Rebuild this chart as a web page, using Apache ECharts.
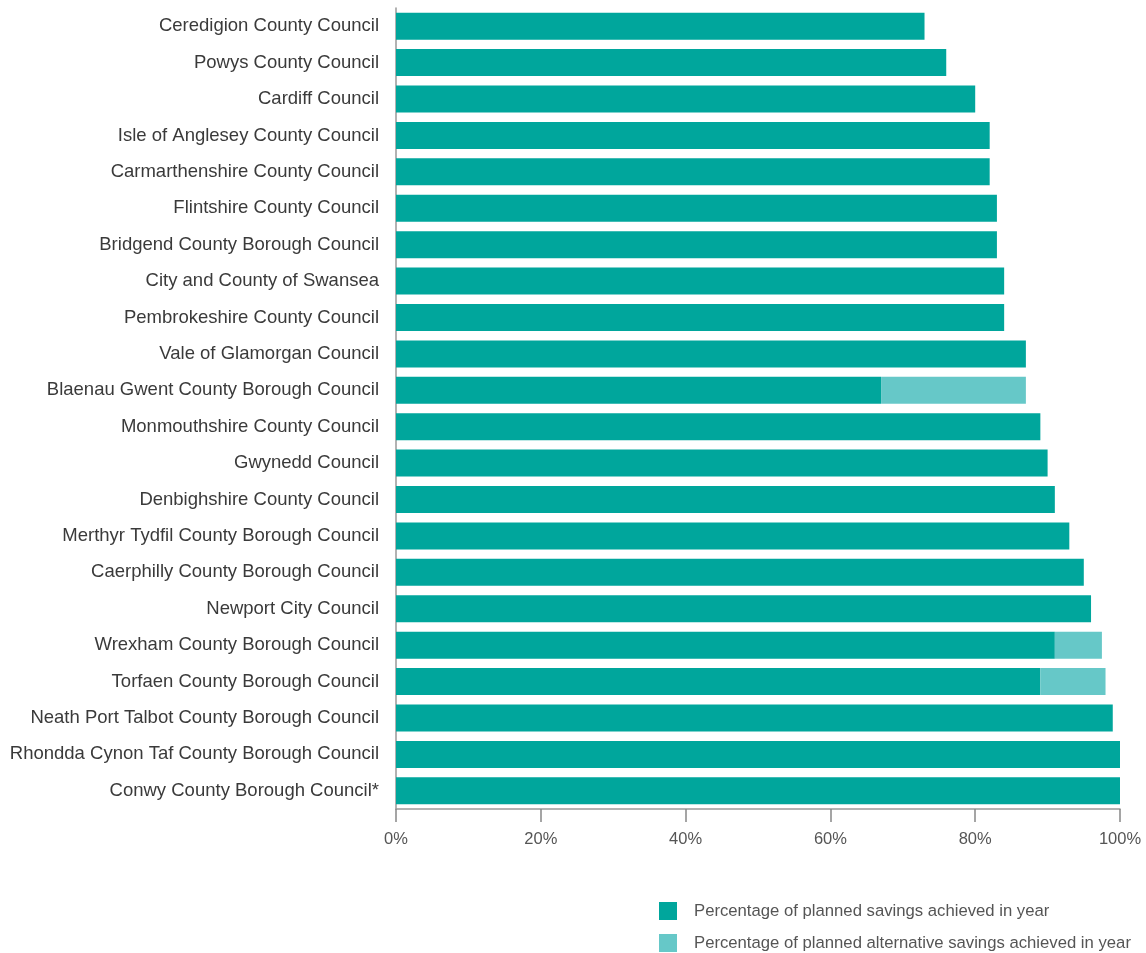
<!DOCTYPE html>
<html>
<head>
<meta charset="utf-8">
<script src="https://cdn.jsdelivr.net/npm/echarts@6/dist/echarts.min.js"></script>
<style>html,body{margin:0;padding:0;background:#fff}#c{width:1146px;height:953px}</style>
</head>
<body>
<div id="c"></div>
<script>
const councils = [
  "Ceredigion County Council",
  "Powys County Council",
  "Cardiff Council",
  "Isle of Anglesey County Council",
  "Carmarthenshire County Council",
  "Flintshire County Council",
  "Bridgend County Borough Council",
  "City and County of Swansea",
  "Pembrokeshire County Council",
  "Vale of Glamorgan Council",
  "Blaenau Gwent County Borough Council",
  "Monmouthshire County Council",
  "Gwynedd Council",
  "Denbighshire County Council",
  "Merthyr Tydfil County Borough Council",
  "Caerphilly County Borough Council",
  "Newport City Council",
  "Wrexham County Borough Council",
  "Torfaen County Borough Council",
  "Neath Port Talbot County Borough Council",
  "Rhondda Cynon Taf County Borough Council",
  "Conwy County Borough Council*"
];
const plannedSavings = [73, 76, 80, 82, 82, 83, 83, 84, 84, 87, 67, 89, 90, 91, 93, 95, 96, 91, 89, 99, 100, 100];
const alternativeSavings = [0, 0, 0, 0, 0, 0, 0, 0, 0, 0, 20, 0, 0, 0, 0, 0, 0, 6.5, 9, 0, 0, 0];
const xTicks = [0, 20, 40, 60, 80, 100];
const seriesNames = ["Percentage of planned savings achieved in year", "Percentage of planned alternative savings achieved in year"];

const chart = echarts.init(document.getElementById('c'));
chart.setOption({
  animation: false,
  textStyle: { fontFamily: 'Liberation Sans, Arial, sans-serif' },
  grid: { left: 396, right: 26, top: 8, bottom: 144, containLabel: false },
  xAxis: {
    type: 'value', min: 0, max: 100, interval: 20,
    axisLine: { show: true, lineStyle: { color: '#999', width: 1.5 } },
    axisTick: { show: true, length: 13, lineStyle: { color: '#888', width: 1.5 } },
    splitLine: { show: false },
    axisLabel: { formatter: v => v + '%', color: '#555', fontSize: 16.5, margin: 22 }
  },
  yAxis: {
    type: 'category', data: councils, inverse: true,
    axisLine: { show: true, lineStyle: { color: '#999', width: 1.5 } },
    axisTick: { show: false },
    axisLabel: { color: '#3a3a3a', fontSize: 18.5, margin: 17, padding: [3, 0, 0, 0] }
  },
  legend: {
    orient: 'vertical', left: 659, top: 902, padding: 0,
    itemWidth: 18, itemHeight: 18, itemGap: 14,
    icon: 'rect',
    textStyle: { color: '#555', fontSize: 16.7, padding: [0, 0, 0, 12] },
    data: seriesNames
  },
  series: [
    { name: seriesNames[0], type: 'bar', stack: 'a', data: plannedSavings, barWidth: 27,
      itemStyle: { color: '#00A69C' } },
    { name: seriesNames[1], type: 'bar', stack: 'a', data: alternativeSavings, barWidth: 27,
      itemStyle: { color: '#66C8C8' } }
  ]
});
</script>
</body>
</html>
